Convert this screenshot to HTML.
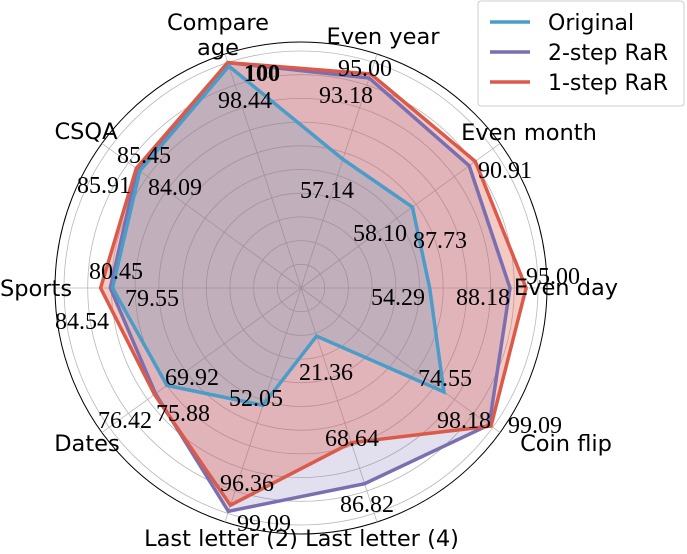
<!DOCTYPE html>
<html><head><meta charset="utf-8"><style>
body{margin:0;background:#fff}
svg text{font-family:"DejaVu Sans","Liberation Sans",sans-serif}
.v{font-family:"Liberation Serif","DejaVu Serif",serif;font-size:24px;text-anchor:middle}
.c{font-size:22.5px;text-anchor:middle}
</style></head><body>
<svg id="chart" width="687" height="549" viewBox="0 0 687 549" xmlns="http://www.w3.org/2000/svg">
<g id="grid"></g>
<g id="areas"></g>
<g id="labels"></g>
<g id="cats"></g>
<g>
<rect x="478" y="1" width="206" height="105" rx="3" fill="#fff" fill-opacity="0.85" stroke="#ccc"/>
<g><line x1="490" y1="22" x2="530" y2="22" stroke="#4a9cc9" stroke-width="3.5"/><text x="548" y="30" font-size="22">Original</text></g>
<g><line x1="490" y1="52" x2="530" y2="52" stroke="#7b6fb0" stroke-width="3.5"/><text x="548" y="60" font-size="22">2-step RaR</text></g>
<g><line x1="490" y1="82" x2="530" y2="82" stroke="#dc5a4a" stroke-width="3.5"/><text x="548" y="90" font-size="22">1-step RaR</text></g>
</g>
</svg>
<script>
const categories=["Compare age","Even year","Even month","Even day","Coin flip","Last letter (4)","Last letter (2)","Dates","Sports","CSQA"];
const original=[98.44,57.14,58.10,54.29,74.55,21.36,52.05,69.92,79.55,84.09];
const twoStep=[100,93.18,87.73,88.18,98.18,86.82,99.09,75.88,80.45,85.45];
const oneStep=[100,95.00,90.91,95.00,99.09,68.64,96.36,76.42,84.54,85.91];
const NS="http://www.w3.org/2000/svg";
const cx=301,cy=288,scale=2.37,outerR=246;
function ang(i){return (108-36*i)*Math.PI/180;}
function px(i,v){return cx+Math.cos(ang(i))*v*scale;}
function py(i,v){return cy-Math.sin(ang(i))*v*scale;}
function mk(tag,attrs,parent){const e=document.createElementNS(NS,tag);for(const k in attrs)e.setAttribute(k,attrs[k]);parent.appendChild(e);return e;}
const grid=document.getElementById('grid');
for(let k=1;k<=10;k++){const c=mk('circle',{cx:cx,cy:cy,r:k*10*scale,fill:'none',stroke:'#b8b8b8','stroke-width':0.8},grid);

}
const oc=mk('circle',{cx:cx,cy:cy,r:outerR,fill:'none',stroke:'#000','stroke-width':1},grid);


categories.forEach((c,i)=>{const l=mk('line',{x1:cx,y1:cy,x2:cx+Math.cos(ang(i))*outerR,y2:cy-Math.sin(ang(i))*outerR,stroke:'#b8b8b8','stroke-width':0.8},grid);

});
const areas=document.getElementById('areas');
const series=[[twoStep,'#7b6fb0','two-step',0.22],[oneStep,'#dc5a4a','one-step',0.32],[original,'#4a9cc9','original',0.2]];
series.forEach(([d,col,n,op])=>{const pts=d.map((v,i)=>px(i,v).toFixed(1)+','+py(i,v).toFixed(1)).join(' ');
const f=mk('polygon',{points:pts,fill:col,'fill-opacity':op,stroke:'none'},areas);

});
series.forEach(([d,col,n])=>{const pts=d.map((v,i)=>px(i,v).toFixed(1)+','+py(i,v).toFixed(1)).join(' ');
const l=mk('polygon',{points:pts,fill:'none',stroke:col,'stroke-width':3.5,'stroke-linejoin':'miter'},areas);

});
// label placement (layout only)
const posO=[[245,100],[327,190],[380,233],[398,297],[445,378],[326,372],[256,398],[192,377],[152,298],[175,187]];
const posT=[[262,73],[346,95],[440,240],[483,297],[464,420],[367,504],[264,523],[183,413],[116,271],[144,155]];
const posP=[[262,73],[365,68],[505,170],[553,276],[535,425],[352,438],[247,483],[125,420],[82,321],[104,185]];
const labels=document.getElementById('labels');
function fmt(v){return v===100?"100":v.toFixed(2);}
[[original,posO,'original'],[twoStep,posT,'two-step'],[oneStep,posP,'one-step']].forEach(([d,p,n])=>{
d.forEach((v,i)=>{const t=mk('text',{x:p[i][0],y:p[i][1]+8,class:'v'},labels);t.textContent=fmt(v);
if(v===100)t.setAttribute('font-weight','bold');

});});
const catPos=[[218,30],[383,44],[529,140],[566,295],[566,451],[382,546],[221,546],[87,451],[36,296],[86,139]];
const cats=document.getElementById('cats');
categories.forEach((c,i)=>{const t=mk('text',{x:catPos[i][0],y:catPos[i][1],class:'c'},cats);
if(c==="Compare age"){t.setAttribute('y',30);const a=mk('tspan',{x:218,dy:0},t);a.textContent="Compare";const b=mk('tspan',{x:218,dy:25},t);b.textContent="age";}
else t.textContent=c;

});
</script>
</body></html>
